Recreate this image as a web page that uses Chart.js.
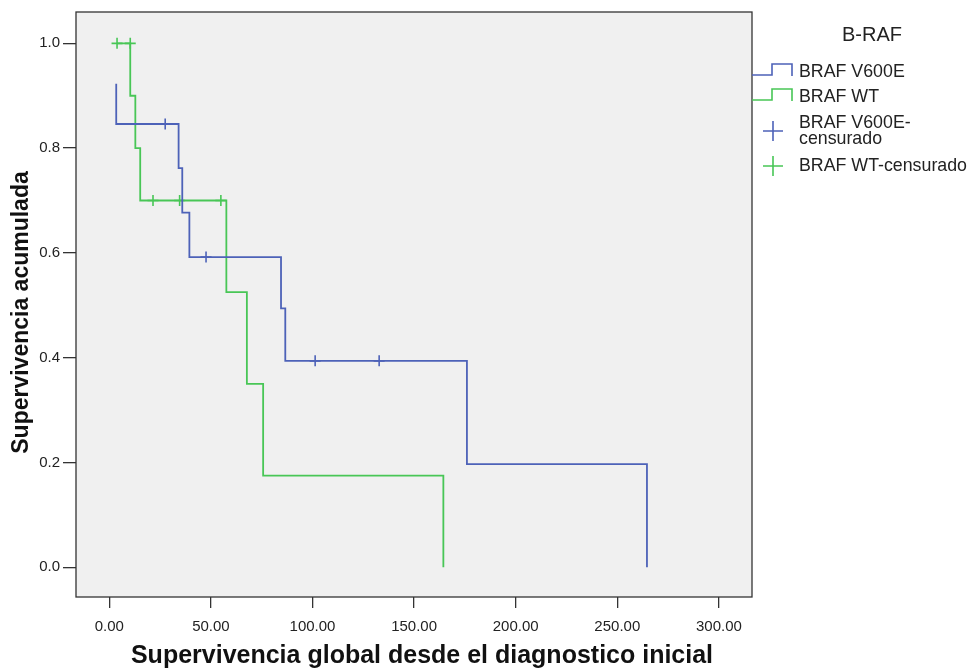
<!DOCTYPE html>
<html>
<head>
<meta charset="utf-8">
<script src="https://cdn.jsdelivr.net/npm/chart.js@4.4.0/dist/chart.umd.min.js"></script>
<style>
  html, body { margin: 0; padding: 0; background: #fff; }
  #wrap { width: 973px; height: 670px; position: relative; }
</style>
</head>
<body>
<div id="wrap"><canvas id="kmChart"></canvas></div>
<script>
// Kaplan-Meier: tiempos y supervivencia acumulada
const v600eTimes = [3.4, 3.4, 34.1, 35.9, 39.4, 84.5, 86.6, 176.0, 264.6];
const v600eSurv  = [0.923, 0.846, 0.762, 0.677, 0.592, 0.494, 0.394, 0.197, 0.0];
const wtTimes = [3.8, 10.3, 12.8, 15.2, 57.6, 67.7, 75.7, 164.4];
const wtSurv  = [1.0, 0.9, 0.8, 0.7, 0.525, 0.35, 0.175, 0.0];

// censurados
const v600eCensTimes = [27.5, 47.6, 101.3, 132.8];
const v600eCensSurv  = [0.846, 0.592, 0.394, 0.394];
const wtCensTimes = [3.8, 10.3, 21.5, 34.6, 54.9];
const wtCensSurv  = [1.0, 1.0, 0.7, 0.7, 0.7];

const xTicks = [0, 50, 100, 150, 200, 250, 300];
const yTicks = [0, 0.2, 0.4, 0.6, 0.8, 1.0];

const legendTitle = 'B-RAF';
const seriesLabels = ['BRAF V600E', 'BRAF WT', 'BRAF V600E-censurado', 'BRAF WT-censurado'];
const xTitle = 'Supervivencia global desde el diagnostico inicial';
const yTitle = 'Supervivencia acumulada';

const BLUE = '#4d62b8';
const GREEN = '#48c656';
const FONT = "'Liberation Sans', Arial, sans-serif";

function toPoints(xs, ys) {
  return xs.map((x, i) => ({ x: x, y: ys[i] }));
}

// fondo gris y marco del área de trazado
const framePlugin = {
  id: 'frame',
  beforeDraw(chart) {
    const { ctx, chartArea: a } = chart;
    ctx.save();
    ctx.fillStyle = '#f0f0f0';
    ctx.fillRect(a.left, a.top, a.right - a.left, a.bottom - a.top);
    ctx.restore();
  },
  afterDraw(chart) {
    const { ctx, chartArea: a } = chart;
    ctx.save();
    ctx.strokeStyle = '#333';
    ctx.lineWidth = 1.3;
    ctx.strokeRect(a.left, a.top, a.right - a.left, a.bottom - a.top);
    ctx.restore();
  }
};

// títulos de ejes (SPSS los centra un poco desplazados)
const axisTitles = {
  id: 'axisTitles',
  afterDraw(chart) {
    const { ctx, chartArea: a } = chart;
    ctx.save();
    ctx.fillStyle = '#111';
    ctx.textAlign = 'center';
    ctx.textBaseline = 'middle';
    ctx.font = 'bold 25px ' + FONT;
    ctx.fillText(xTitle, (a.left + a.right) / 2 + 8, 656);
    ctx.translate(22, (a.top + a.bottom) / 2 + 8);
    ctx.rotate(-Math.PI / 2);
    ctx.font = 'bold 23px ' + FONT;
    ctx.fillText(yTitle, 0, 0);
    ctx.restore();
  }
};

// leyenda estilo SPSS a la derecha
const spssLegend = {
  id: 'spssLegend',
  afterDraw(chart) {
    const { ctx, chartArea: a } = chart;
    const left = a.right;
    const textX = left + 47;
    const rows = [72, 97, 131, 166];
    ctx.save();
    ctx.fillStyle = '#222';
    ctx.font = '20px ' + FONT;
    ctx.textAlign = 'center';
    ctx.textBaseline = 'middle';
    ctx.fillText(legendTitle, left + 120, 35);

    chart.data.datasets.forEach((ds, i) => {
      const y = rows[i];
      ctx.strokeStyle = ds.borderColor;
      ctx.lineWidth = 1.6;
      ctx.beginPath();
      if (ds.type === 'line') {
        ctx.moveTo(left, y + 3);
        ctx.lineTo(left + 20, y + 3);
        ctx.lineTo(left + 20, y - 8);
        ctx.lineTo(left + 40, y - 8);
        ctx.lineTo(left + 40, y + 4);
      } else {
        ctx.moveTo(left + 11, y);
        ctx.lineTo(left + 31, y);
        ctx.moveTo(left + 21, y - 10);
        ctx.lineTo(left + 21, y + 10);
      }
      ctx.stroke();

      ctx.fillStyle = '#222';
      ctx.font = '17.8px ' + FONT;
      ctx.textAlign = 'left';
      const label = ds.label;
      const maxW = chart.width - textX - 2;
      if (ctx.measureText(label).width > maxW && label.indexOf('-') > 0) {
        const cut = label.indexOf('-') + 1;
        ctx.fillText(label.slice(0, cut), textX, y - 8);
        ctx.fillText(label.slice(cut), textX, y + 8);
      } else {
        ctx.fillText(label, textX, y);
      }
    });
    ctx.restore();
  }
};

const ctx = document.getElementById('kmChart');
new Chart(ctx, {
  data: {
    datasets: [
      {
        type: 'line',
        label: seriesLabels[0],
        data: toPoints(v600eTimes, v600eSurv),
        borderColor: BLUE,
        borderWidth: 1.8,
        stepped: 'before',
        pointRadius: 0,
        fill: false
      },
      {
        type: 'line',
        label: seriesLabels[1],
        data: toPoints(wtTimes, wtSurv),
        borderColor: GREEN,
        borderWidth: 1.8,
        stepped: 'before',
        pointRadius: 0,
        fill: false
      },
      {
        type: 'scatter',
        label: seriesLabels[2],
        data: toPoints(v600eCensTimes, v600eCensSurv),
        borderColor: BLUE,
        pointStyle: 'cross',
        pointRadius: 5.5,
        pointBorderWidth: 1.6
      },
      {
        type: 'scatter',
        label: seriesLabels[3],
        data: toPoints(wtCensTimes, wtCensSurv),
        borderColor: GREEN,
        pointStyle: 'cross',
        pointRadius: 5.5,
        pointBorderWidth: 1.6
      }
    ]
  },
  options: {
    responsive: true,
    maintainAspectRatio: false,
    animation: false,
    layout: { padding: { top: 12, right: 221, left: 0, bottom: 0 } },
    plugins: {
      legend: { display: false },
      tooltip: { enabled: false }
    },
    scales: {
      x: {
        type: 'linear',
        min: -16.4,
        max: 316.3,
        afterBuildTicks: (axis) => { axis.ticks = xTicks.map(v => ({ value: v })); },
        afterFit: (axis) => { axis.height = 73; },
        ticks: {
          color: '#222',
          font: { family: FONT, size: 15 },
          padding: 10,
          callback: (v) => Number(v).toFixed(2)
        },
        grid: { drawOnChartArea: false, drawTicks: true, tickLength: 11, color: '#333', lineWidth: 1.3 },
        border: { display: false },
        title: { display: false }
      },
      y: {
        type: 'linear',
        min: -0.0567,
        max: 1.0598,
        afterBuildTicks: (axis) => { axis.ticks = yTicks.map(v => ({ value: v })); },
        afterFit: (axis) => { axis.width = 76; },
        ticks: {
          color: '#222',
          font: { family: FONT, size: 15 },
          padding: 3,
          callback: (v) => Number(v).toFixed(1)
        },
        grid: { drawOnChartArea: false, drawTicks: true, tickLength: 13, color: '#333', lineWidth: 1.3 },
        border: { display: false },
        title: { display: false }
      }
    }
  },
  plugins: [framePlugin, axisTitles, spssLegend]
});
</script>
</body>
</html>
